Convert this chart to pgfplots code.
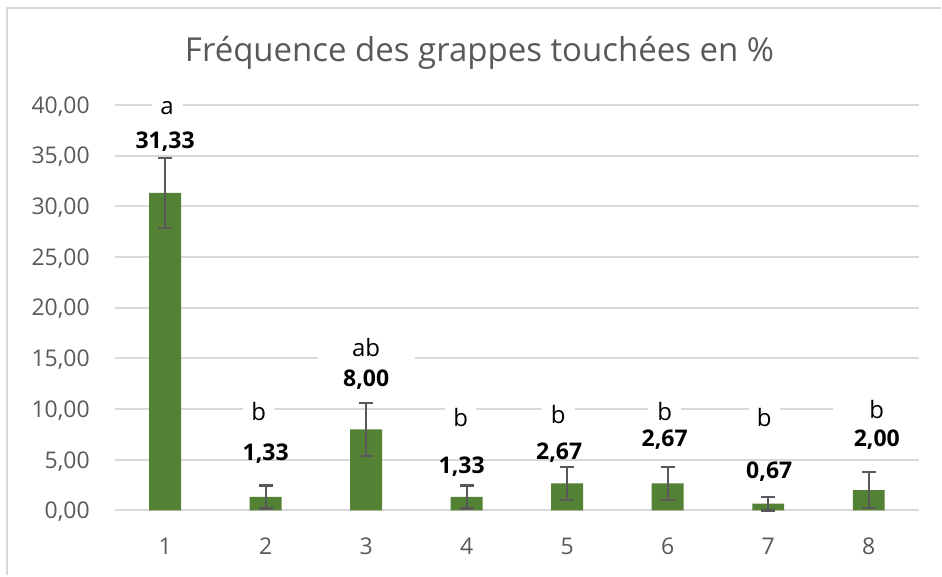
\documentclass[border=0pt]{standalone}
\usepackage{fontspec}
\setmainfont{Open Sans}
\usepackage{pgfplots}
\pgfplotsset{compat=1.18}
\definecolor{barg}{HTML}{548235}
\definecolor{gridc}{HTML}{D9D9D9}
\definecolor{txtc}{HTML}{595959}
\definecolor{errc}{HTML}{595959}
\begin{document}
\begin{tikzpicture}[x=1pt,y=1pt]
  \path[fill=white] (0,0) rectangle (942,576);
  \draw[gridc, line width=2pt] (7,0) -- (7,568) -- (942,568);
  \node[anchor=base, text=txtc, font=\fontsize{33}{40}\selectfont, inner sep=0pt]
    at (480,514) {Fréquence des grappes touchées en \%};
  \begin{axis}[
      at={(115pt,65pt)}, anchor=south west,
      scale only axis, width=805pt, height=406pt,
      xmin=0.5, xmax=8.5, ymin=0, ymax=40,
      xtick={1,...,8}, ytick={0,5,...,40},
      axis line style={draw=none},
      major tick length=0pt,
      ymajorgrids, grid style={gridc, line width=2pt},
      clip=false,
      /pgf/number format/.cd, fixed, fixed zerofill, precision=2, use comma,
      assume math mode=true, 1000 sep={},
      /pgfplots/.cd,
      ticklabel style={text=txtc, font=\fontsize{23}{28}\selectfont},
      yticklabel style={anchor=east, inner sep=0pt, text depth=0pt, xshift=-25pt},
      xticklabel style={anchor=north, inner sep=0pt, yshift=-27pt},
      xticklabel={\pgfmathprintnumber[precision=0]{\tick}},
    ]
    \addplot[ybar, bar width=32pt, fill=barg, draw=none,
      error bars/.cd, y dir=both, y explicit,
      error bar style={errc, line width=2.2pt},
      error mark options={errc, line width=2.2pt, mark size=7pt, rotate=90}]
      coordinates {
        (1,31.33) +- (0,3.46)
        (2,1.33)  +- (0,1.13)
        (3,8.00)  +- (0,2.63)
        (4,1.33)  +- (0,1.13)
        (5,2.67)  +- (0,1.60)
        (6,2.67)  +- (0,1.60)
        (7,0.67)  +- (0,0.68)
        (8,2.00)  +- (0,1.77)
      };
    % letters
    \begin{scope}[every node/.style={fill=white, inner xsep=0pt, inner ysep=4pt,
        font=\fontsize{24}{29}\selectfont}]
      \node[minimum width=31pt] at (axis cs:1.02,39.7) {a};
      \node[minimum width=31pt] at (axis cs:1.93,9.75) {b};
      \node[minimum width=97pt] at (axis cs:3.00,16.06) {ab};
      \node[minimum width=31pt] at (axis cs:3.94,9.16) {b};
      \node[minimum width=33pt] at (axis cs:4.91,9.46) {b};
      \node[minimum width=33pt] at (axis cs:5.97,9.75) {b};
      \node[minimum width=31pt] at (axis cs:6.96,9.16) {b};
      \node[minimum width=88pt] at (axis cs:8.08,9.95) {b};
    \end{scope}
    % values
    \begin{scope}[every node/.style={inner sep=0pt, font=\fontsize{23}{28}\selectfont\bfseries}]
      \node at (axis cs:1.00,36.35) {31,33};
      \node at (axis cs:2.00,5.62) {1,33};
      \node at (axis cs:3.00,12.90) {8,00};
      \node at (axis cs:3.95,4.33) {1,33};
      \node at (axis cs:4.92,5.71) {2,67};
      \node at (axis cs:5.97,7.00) {2,67};
      \node at (axis cs:7.01,3.84) {0,67};
      \node at (axis cs:8.08,7.00) {2,00};
    \end{scope}
  \end{axis}
\end{tikzpicture}
\end{document}
